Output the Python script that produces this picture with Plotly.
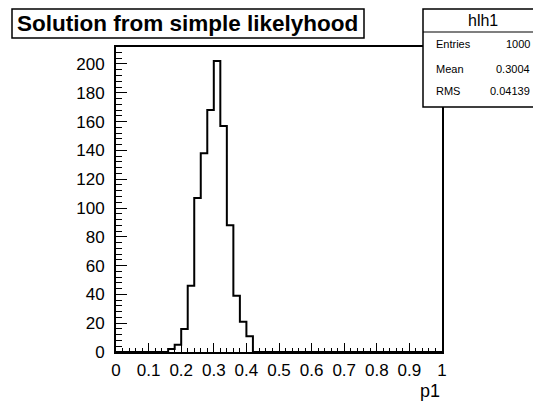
import plotly.graph_objects as go

# ---- data ----
bin_width = 0.02
n_bins = 50
bin_lo = 0.0
# non-zero bin contents (starting at bin index 8, i.e. 0.16-0.18)
first_nonzero_bin = 8
nonzero_counts = [2, 5, 16, 46, 107, 138, 168, 202, 157, 88, 39, 21, 11]

x_tick_vals = [0, 0.1, 0.2, 0.3, 0.4, 0.5, 0.6, 0.7, 0.8, 0.9, 1.0]
x_tick_text = ["0", "0.1", "0.2", "0.3", "0.4", "0.5", "0.6", "0.7", "0.8", "0.9", "1"]
y_tick_vals = [0, 20, 40, 60, 80, 100, 120, 140, 160, 180, 200]
y_tick_text = [str(v) for v in y_tick_vals]

title_text = "Solution from simple likelyhood"
hist_name = "hlh1"
stat_labels = ["Entries", "Mean", "RMS"]
stat_values = ["1000", "0.3004", "0.04139"]
x_title = "p1"

# ---- build histogram outline ----
counts = [0] * n_bins
for i, c in enumerate(nonzero_counts):
    counts[first_nonzero_bin + i] = c
edges = [bin_lo + i * bin_width for i in range(n_bins + 1)]
xs = edges
ys = counts + [counts[-1]]

W, H = 533, 402
L, R, T, B = 116, 442, 47, 352
FONT = "Liberation Sans, Arial, sans-serif"

def px(x):
    return (x - L) / (R - L)

def py(y):
    return (B - y) / (B - T)

fig = go.Figure()
fig.add_trace(go.Scatter(x=xs, y=ys, mode="lines", line=dict(color="black", width=2, shape="hv"),
                         hoverinfo="skip", showlegend=False))

fig.update_layout(
    width=W, height=H,
    margin=dict(l=L, r=W - R, t=T, b=H - B, pad=0),
    paper_bgcolor="white", plot_bgcolor="white",
    font=dict(family=FONT, color="black"),
    showlegend=False,
    xaxis=dict(range=[0, 1], tickvals=x_tick_vals, ticktext=x_tick_text, ticks="inside",
               ticklen=9, tickwidth=1, tickcolor="black", showgrid=False, zeroline=False,
               showline=True, linecolor="black", linewidth=1.8, mirror=True,
               tickfont=dict(size=17, family=FONT), ticklabelstandoff=2,
               minor=dict(dtick=0.02, tick0=0, ticks="inside", ticklen=4, tickcolor="black", tickwidth=1, showgrid=False)),
    yaxis=dict(range=[0, 211.8], tickvals=y_tick_vals, ticktext=y_tick_text, ticks="inside",
               ticklen=11, tickwidth=1, tickcolor="black", showgrid=False, zeroline=False,
               showline=True, linecolor="black", linewidth=1.8, mirror=True,
               tickfont=dict(size=17, family=FONT), ticklabelstandoff=6,
               minor=dict(dtick=4, tick0=0, ticks="inside", ticklen=6, tickcolor="black", tickwidth=1, showgrid=False)),
)

shapes = []
# title box
shapes.append(dict(type="rect", xref="paper", yref="paper", x0=px(12), x1=px(364), y0=py(9), y1=py(38),
                   line=dict(color="black", width=1.5), fillcolor="white", layer="above"))
# stats box
shapes.append(dict(type="rect", xref="paper", yref="paper", x0=px(423), x1=px(560), y0=py(9), y1=py(107),
                   line=dict(color="black", width=1.5), fillcolor="white", layer="above"))
shapes.append(dict(type="line", xref="paper", yref="paper", x0=px(423), x1=px(560), y0=py(32), y1=py(32),
                   line=dict(color="black", width=1.2), layer="above"))
fig.update_layout(shapes=shapes)

ann = []
ann.append(dict(text="<b>" + title_text + "</b>", xref="paper", yref="paper", x=px(15), y=py(23.5),
                xanchor="left", yanchor="middle", showarrow=False, font=dict(size=22.5, family=FONT)))
ann.append(dict(text=hist_name, xref="paper", yref="paper", x=px(483), y=py(21),
                xanchor="center", yanchor="middle", showarrow=False, font=dict(size=16, family=FONT)))
row_y = [44, 69, 91]
for lab, val, ry in zip(stat_labels, stat_values, row_y):
    ann.append(dict(text=lab, xref="paper", yref="paper", x=px(434), y=py(ry), xanchor="left",
                    yanchor="middle", showarrow=False, font=dict(size=11, family=FONT)))
    ann.append(dict(text=val, xref="paper", yref="paper", x=px(532), y=py(ry), xanchor="right",
                    yanchor="middle", showarrow=False, font=dict(size=11, family=FONT)))
ann.append(dict(text=x_title, xref="paper", yref="paper", x=px(442), y=py(391), xanchor="right",
                yanchor="middle", showarrow=False, font=dict(size=18, family=FONT)))
fig.update_layout(annotations=ann)

fig.write_html("out.html")
